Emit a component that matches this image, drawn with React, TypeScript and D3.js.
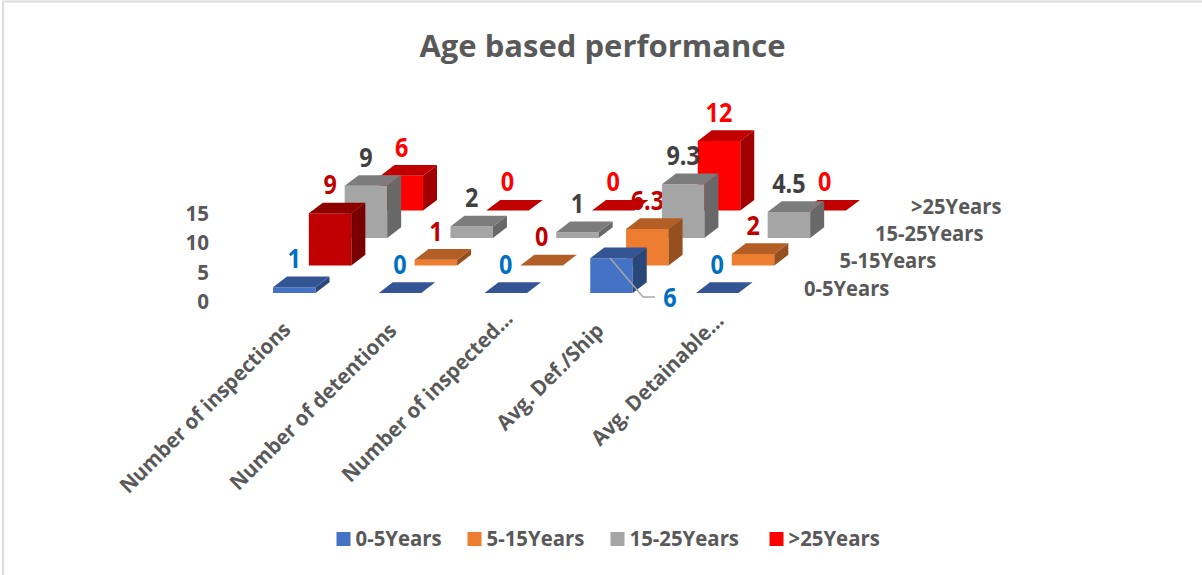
import React from "react";
import * as d3 from "d3";

const categories = ["Number of inspections", "Number of detentions", "Number of inspected…", "Avg. Def./Ship", "Avg. Detainable…"];
const seriesNames = ["0-5Years", "5-15Years", "15-25Years", ">25Years"];
const v0 = [1, 0, 0, 6, 0];
const v1 = [9, 1, 0, 6.3, 2];
const v2 = [9, 2, 1, 9.3, 4.5];
const v3 = [6, 0, 0, 12, 0];
const seriesValues = [v0, v1, v2, v3];
const yTicks = [0, 5, 10, 15];

const fronts = ["#4472C4", "#ED7D31", "#A5A5A5", "#FF0000"];
const tops = ["#335593", "#B25E25", "#7C7C7C", "#C00000"];
const sides = ["#2A4779", "#964F1F", "#686868", "#A00000"];
const labelColors = ["#0070C0", "#C00000", "#404040", "#FF0000"];
const gray = "#595959";
const font = "'Open Sans', sans-serif";

const xCat = d3.scaleLinear().domain([0, 4]).range([273, 696]);
const xRow = d3.scaleLinear().domain([0, 3]).range([0, 107.5]);
const yRow = d3.scaleLinear().domain([0, 3]).range([293, 210.6]);
const hVal = d3.scaleLinear().domain([0, 15]).range([0, 87]);
const yAxis = d3.scaleLinear().domain([0, 15]).range([302, 214]);
const W = 42.5, DX = 14, DY = 10.7;

const poly = (pts: number[][]) => d3.line()(pts as [number, number][]) + "Z";

function Bar({ c, r }: { c: number; r: number }) {
  const v = seriesValues[r][c];
  const x = xCat(c) + xRow(r);
  const b = yRow(r);
  const h = hVal(v);
  const t = b - h;
  const special = r === 1 && c === 0;
  const f = special ? "#C00000" : fronts[r];
  const tp = special ? "#8C0000" : tops[r];
  const sd = special ? "#780000" : sides[r];
  return (
    <g>
      {v > 0 && <path d={poly([[x, b], [x + W, b], [x + W, t], [x, t]])} fill={f} />}
      {v > 0 && <path d={poly([[x + W, b], [x + W + DX, b - DY], [x + W + DX, t - DY], [x + W, t]])} fill={sd} />}
      <path d={poly([[x, t], [x + W, t], [x + W + DX, t - DY], [x + DX, t - DY]])} fill={tp} />
    </g>
  );
}

function Label({ c, r }: { c: number; r: number }) {
  const v = seriesValues[r][c];
  const moved = r === 0 && c === 3;
  const px = moved ? 670 : xCat(c) + xRow(r) + W / 2;
  const py = moved ? 307 : yRow(r) - hVal(v) - DY - 8.5;
  return (
    <text
      transform={`translate(${px},${py}) scale(0.9,1)`}
      textAnchor="middle"
      fontSize={26}
      fontWeight={700}
      fontFamily={font}
      fill={labelColors[r]}
    >
      {v}
    </text>
  );
}

export default function App() {
  const cs = d3.range(categories.length);
  const rs = d3.range(seriesNames.length);
  const legendX = [336.5, 467.5, 610.5, 769.5];
  const rowLabelX = [804, 839.5, 875, 911];
  const rowLabelY = [296, 268, 241, 214];
  const catEndX = [292, 398, 514, 605, 725];
  const catEndY = [331, 332, 320, 332, 322];
  return (
    <svg
      width={1202}
      height={575}
      style={{ position: "absolute", left: 0, top: 0, background: "#fff" }}
    >
      <line x1={2} y1={1.5} x2={1202} y2={1.5} stroke="#DCDCDC" strokeWidth={2} />
      <line x1={3} y1={1} x2={3} y2={575} stroke="#DCDCDC" strokeWidth={2} />
      <text x={602.5} y={57} textAnchor="middle" fontSize={31} fontWeight={700} fontFamily={font} fill={gray}>
        Age based performance
      </text>
      {yTicks.map((t) => (
        <text key={t} transform={`translate(209,${yAxis(t) + 7}) scale(0.98,1)`} textAnchor="end" fontSize={21} fontWeight={700} fontFamily={font} fill={gray}>
          {t}
        </text>
      ))}
      {seriesNames.map((s, r) => (
        <text key={s} transform={`translate(${rowLabelX[r]},${rowLabelY[r]}) scale(0.96,1)`} fontSize={21} fontWeight={700} fontFamily={font} fill={gray}>
          {s}
        </text>
      ))}
      {categories.map((s, c) => (
        <text
          key={s}
          transform={`translate(${catEndX[c]},${catEndY[c]}) rotate(-45) scale(0.97,1)`}
          textAnchor="end"
          fontSize={21}
          fontWeight={700}
          fontFamily={font}
          fill={gray}
        >
          {s}
        </text>
      ))}
      {cs.map((c) => <Label key={c} c={c} r={1} />)}
      {[...rs].reverse().map((r) => (
        <g key={r}>{[...cs].reverse().map((c) => <Bar key={c} c={c} r={r} />)}</g>
      ))}
      {[3, 2, 0].map((r) => (
        <g key={r}>{cs.map((c) => <Label key={c} c={c} r={r} />)}</g>
      ))}
      <path d="M610,258L643,297L655,297" fill="none" stroke="#A6A6A6" strokeWidth={1.5} />
      {seriesNames.map((s, r) => (
        <g key={s}>
          <rect x={legendX[r]} y={532} width={14} height={14} fill={fronts[r]} />
          <text transform={`translate(${legendX[r] + 19},546) scale(0.97,1)`} fontSize={21} fontWeight={700} fontFamily={font} fill={gray}>
            {s}
          </text>
        </g>
      ))}
    </svg>
  );
}
